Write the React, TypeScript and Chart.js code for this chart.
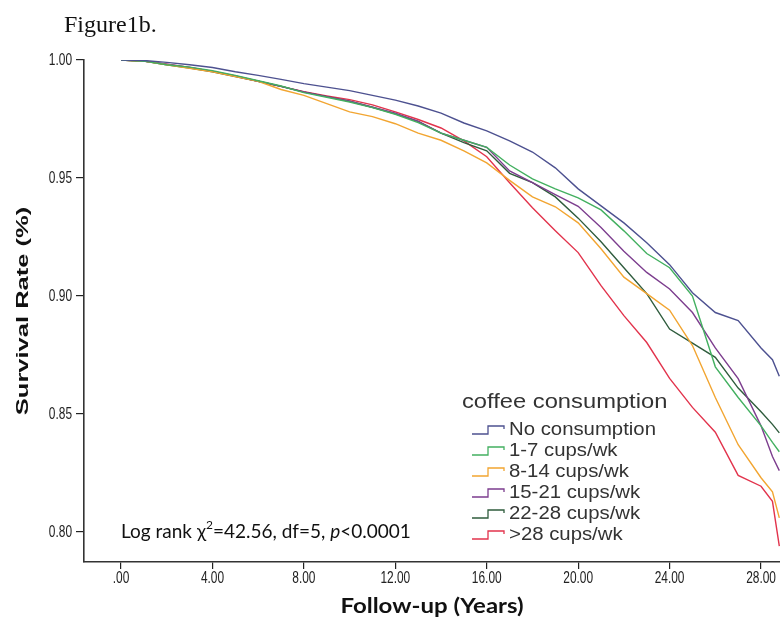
import React, { useEffect, useRef } from 'react';
import { Chart, registerables } from 'chart.js';

Chart.register(...registerables);

// ---------- data ----------
const years = [0, 1, 2, 3, 4, 5, 6, 7, 8, 9, 10, 11, 12, 13, 14, 15, 16, 17, 18, 19, 20, 21, 22, 23, 24, 25, 26, 27, 28, 28.5, 28.8];

const seriesLabels = ['No consumption', '1-7 cups/wk', '8-14 cups/wk', '15-21 cups/wk', '22-28 cups/wk', '>28 cups/wk'];

const noConsumption = [1.0, 0.9998, 0.999, 0.998, 0.9968, 0.995, 0.9935, 0.9918, 0.990, 0.9885, 0.987, 0.985, 0.983, 0.9805, 0.9775, 0.9733, 0.970, 0.9657, 0.961, 0.9543, 0.9454, 0.9382, 0.931, 0.9226, 0.9133, 0.9014, 0.893, 0.8896, 0.878, 0.873, 0.866];
const cups1to7 = [1.0, 0.9995, 0.998, 0.997, 0.9955, 0.9935, 0.9912, 0.989, 0.9862, 0.9842, 0.9822, 0.9798, 0.977, 0.9735, 0.969, 0.966, 0.963, 0.9555, 0.9496, 0.9454, 0.9416, 0.9365, 0.9276, 0.918, 0.912, 0.900, 0.870, 0.857, 0.845, 0.838, 0.834];
const cups8to14 = [1.0, 0.9995, 0.998, 0.9965, 0.995, 0.993, 0.991, 0.9875, 0.985, 0.9815, 0.978, 0.976, 0.973, 0.969, 0.966, 0.9615, 0.9564, 0.949, 0.942, 0.9378, 0.931, 0.920, 0.908, 0.901, 0.894, 0.879, 0.857, 0.837, 0.823, 0.817, 0.806];
const cups15to21 = [1.0, 0.9996, 0.9982, 0.9968, 0.9952, 0.9932, 0.991, 0.9888, 0.9865, 0.9845, 0.9825, 0.980, 0.9775, 0.974, 0.969, 0.966, 0.963, 0.953, 0.948, 0.943, 0.938, 0.929, 0.919, 0.910, 0.903, 0.893, 0.878, 0.865, 0.845, 0.832, 0.826];
const cups22to28 = [1.0, 0.9995, 0.998, 0.9966, 0.995, 0.993, 0.991, 0.9888, 0.9864, 0.9845, 0.9825, 0.980, 0.9772, 0.974, 0.969, 0.965, 0.9615, 0.952, 0.948, 0.942, 0.933, 0.923, 0.912, 0.901, 0.886, 0.880, 0.874, 0.861, 0.851, 0.8456, 0.842];
const cupsOver28 = [1.0, 0.9995, 0.9982, 0.9968, 0.9952, 0.9932, 0.991, 0.9888, 0.9866, 0.9848, 0.9832, 0.981, 0.978, 0.9748, 0.9712, 0.9657, 0.959, 0.948, 0.9374, 0.9277, 0.9184, 0.9044, 0.8917, 0.8803, 0.8651, 0.8528, 0.8423, 0.824, 0.8194, 0.813, 0.794];

const seriesValues = [noConsumption, cups1to7, cups8to14, cups15to21, cups22to28, cupsOver28];
const seriesColors = ['#4d5190', '#43b060', '#f2a531', '#7c3d8e', '#2f5c3d', '#e2334c'];

const xTickValues = [0, 4, 8, 12, 16, 20, 24, 28];
const yTickValues = [0.8, 0.85, 0.9, 0.95, 1.0];

const figureTitle = 'Figure1b.';
const xTitle = 'Follow-up (Years)';
const yTitle = 'Survival Rate (%)';
const legendTitle = 'coffee consumption';
const statParts = [
  { t: 'Log rank ', style: 'n' },
  { t: 'χ', style: 'n' },
  { t: '2', style: 'sup' },
  { t: '=42.56, df=5, ', style: 'n' },
  { t: 'p', style: 'i' },
  { t: '<0.0001', style: 'n' },
];

const W = 780;
const H = 623;

const fmtX = (v: number) => (v === 0 ? '.00' : v.toFixed(2));
const fmtY = (v: number) => v.toFixed(2);

function drawText(
  ctx: CanvasRenderingContext2D,
  text: string,
  x: number,
  y: number,
  font: string,
  align: CanvasTextAlign,
  sx = 1,
  sy = 1,
  rot = 0,
) {
  ctx.save();
  ctx.translate(x, y);
  if (rot) ctx.rotate(rot);
  ctx.scale(sx, sy);
  ctx.font = font;
  ctx.textAlign = align;
  ctx.textBaseline = 'middle';
  ctx.fillText(text, 0, 0);
  ctx.restore();
}

const overlayPlugin = {
  id: 'overlay',
  afterDraw(chart: any) {
    const ctx: CanvasRenderingContext2D = chart.ctx;
    const ca = chart.chartArea;
    const xs = chart.scales.x;
    const ys = chart.scales.y;

    // tick labels (condensed face)
    ctx.save();
    ctx.fillStyle = '#222';
    const tickFont = "17px 'Liberation Sans', Arial, sans-serif";
    xs.ticks.forEach((t: any) => {
      drawText(ctx, fmtX(t.value), xs.getPixelForValue(t.value), ca.bottom + 16, tickFont, 'center', 0.7, 1);
    });
    ys.ticks.forEach((t: any) => {
      drawText(ctx, fmtY(t.value), ca.left - 12, ys.getPixelForValue(t.value), tickFont, 'right', 0.7, 1);
    });
    ctx.restore();

    // axis titles
    ctx.save();
    ctx.fillStyle = '#111';
    drawText(ctx, xTitle, (ca.left + ca.right) / 2, 607, "bold 20px Lato, 'Open Sans', sans-serif", 'center', 1.2, 1);
    drawText(ctx, yTitle, 23, (ca.top + ca.bottom) / 2, "bold 17px 'Liberation Sans', Arial, sans-serif", 'center', 1.5, 1, -Math.PI / 2);
    ctx.restore();

    // statistic annotation
    ctx.save();
    ctx.fillStyle = '#111';
    ctx.textBaseline = 'middle';
    ctx.textAlign = 'left';
    let sx = xs.getPixelForValue(0);
    const sy = ys.getPixelForValue(0.8);
    for (const p of statParts) {
      if (p.style === 'sup') {
        ctx.font = "12px Lato, sans-serif";
        ctx.fillText(p.t, sx, sy - 7);
      } else if (p.style === 'i') {
        ctx.font = "italic 19px Lato, sans-serif";
        ctx.fillText(p.t, sx, sy);
      } else {
        ctx.font = "19px Lato, sans-serif";
        ctx.fillText(p.t, sx, sy);
      }
      sx += ctx.measureText(p.t).width;
    }
    ctx.restore();

    // legend
    ctx.save();
    ctx.fillStyle = '#333';
    const lx = 462;
    drawText(ctx, legendTitle, lx, 402, "21px 'Liberation Sans', Arial, sans-serif", 'left', 1.13, 1);
    seriesLabels.forEach((lab, i) => {
      const cy = 430 + i * 21;
      ctx.strokeStyle = seriesColors[i];
      ctx.lineWidth = 1.3;
      ctx.beginPath();
      ctx.moveTo(472, cy + 4);
      ctx.lineTo(488, cy + 4);
      ctx.lineTo(488, cy - 4);
      ctx.lineTo(504, cy - 4);
      ctx.lineTo(504, cy - 1);
      ctx.stroke();
      ctx.fillStyle = '#333';
      drawText(ctx, lab, 509, cy, "18px 'Liberation Sans', Arial, sans-serif", 'left', 1.13, 1);
    });
    ctx.restore();
  },
};

export default function App() {
  const ref = useRef<HTMLCanvasElement | null>(null);

  useEffect(() => {
    document.body.style.margin = '0';
    const canvas = ref.current;
    if (!canvas) return;
    const chart = new Chart(canvas, {
      type: 'line',
      data: {
        datasets: seriesLabels.map((lab, i) => ({
          label: lab,
          data: years.map((t, j) => ({ x: t, y: seriesValues[i][j] })),
          borderColor: seriesColors[i],
          backgroundColor: seriesColors[i],
          borderWidth: 1.4,
          pointRadius: 0,
          tension: 0,
          fill: false,
        })),
      },
      options: {
        responsive: false,
        animation: false,
        devicePixelRatio: 1,
        layout: { padding: { top: 60, right: 0, left: 0, bottom: 0 } },
        plugins: {
          legend: { display: false },
          tooltip: { enabled: false },
          title: { display: false },
        },
        scales: {
          x: {
            type: 'linear',
            min: -1.62,
            max: 28.83,
            afterBuildTicks: (s: any) => {
              s.ticks = xTickValues.map((v) => ({ value: v }));
            },
            afterFit: (s: any) => {
              s.height = 61;
            },
            ticks: { display: false, autoSkip: false, maxRotation: 0 },
            grid: { drawOnChartArea: false, drawTicks: true, tickLength: 7, color: '#222', lineWidth: 1.2 },
            border: { display: true, color: '#333', width: 1.6 },
          },
          y: {
            type: 'linear',
            min: 0.7873,
            max: 1.0,
            afterBuildTicks: (s: any) => {
              s.ticks = yTickValues.map((v) => ({ value: v }));
            },
            afterFit: (s: any) => {
              s.width = 84;
            },
            ticks: { display: false, autoSkip: false },
            grid: { drawOnChartArea: false, drawTicks: true, tickLength: 8, color: '#222', lineWidth: 1.2 },
            border: { display: true, color: '#333', width: 1.6 },
          },
        },
      },
      plugins: [overlayPlugin],
    });
    return () => chart.destroy();
  }, []);

  return (
    <div style={{ position: 'fixed', left: 0, top: 0, width: W, height: H, background: '#fff' }}>
      <div
        style={{
          position: 'absolute',
          left: 64,
          top: 10,
          fontFamily: "'Liberation Serif', 'Times New Roman', serif",
          fontSize: 24,
          color: '#111',
          lineHeight: '28px',
        }}
      >
        {figureTitle}
      </div>
      <canvas ref={ref} width={W} height={H} style={{ width: W, height: H, display: 'block' }} />
    </div>
  );
}
